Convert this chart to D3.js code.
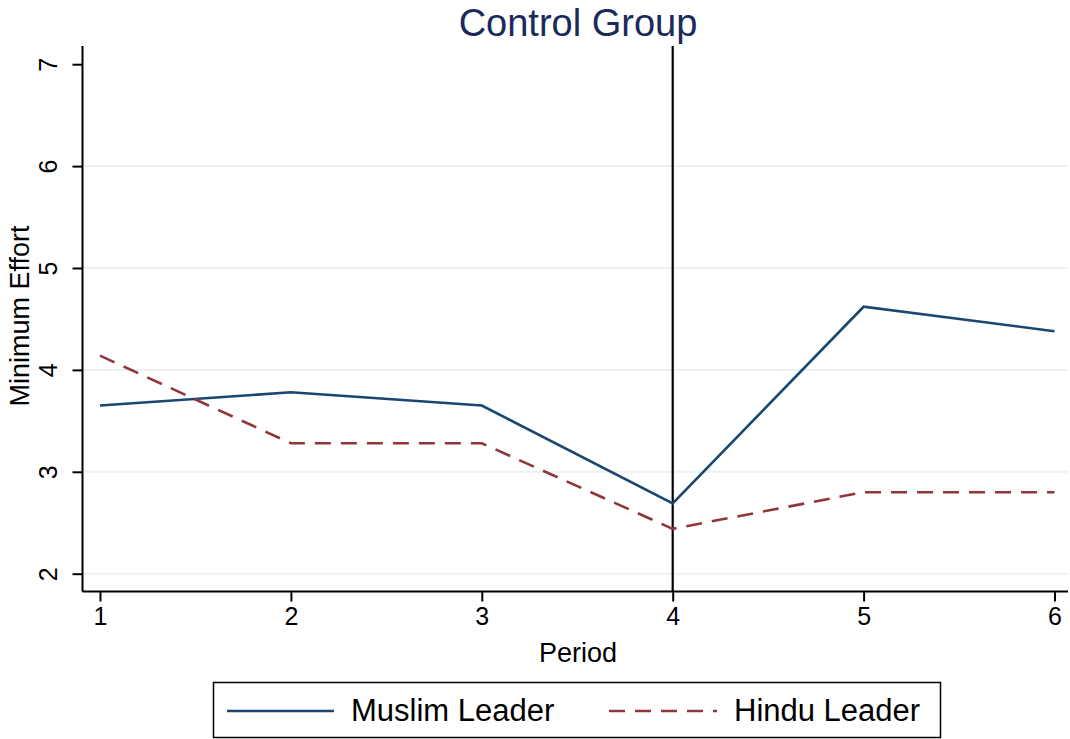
<!DOCTYPE html>
<html>
<head>
<meta charset="utf-8">
<script src="https://cdn.jsdelivr.net/npm/d3@7"></script>
<style>
  body { margin: 0; background: #fff; }
  text { font-family: "Liberation Sans", Arial, sans-serif; }
</style>
</head>
<body>
<div id="container"></div>
<script>
// data
const periods = [1, 2, 3, 4, 5, 6]
const muslimLeader = [3.65, 3.78, 3.65, 2.69, 4.62, 4.38]
const hinduLeader = [4.14, 3.28, 3.28, 2.44, 2.80, 2.80]
const yTicks = [2, 3, 4, 5, 6, 7]
const gridTicks = [2, 3, 4, 5, 6]
const seriesNames = ["Muslim Leader", "Hindu Leader"]

const W = 1070, H = 739
const svg = d3.select("#container").append("svg")
    .attr("width", W).attr("height", H)

const x = d3.scaleLinear().domain([1, 6]).range([100, 1054.5])
const y = d3.scaleLinear().domain([2, 7]).range([573.7, 64.2])
const plotLeft = 82.5, plotRight = 1068, plotBottom = 591.5, plotTop = 46

// grid
svg.append("g").selectAll("line").data(gridTicks).join("line")
    .attr("x1", plotLeft).attr("x2", plotRight)
    .attr("y1", d => y(d)).attr("y2", d => y(d))
    .attr("stroke", "#eaf2f3").attr("stroke-width", 2)

// axes
const yAxis = svg.append("g").attr("transform", `translate(${plotLeft},0)`)
    .call(d3.axisLeft(y).tickValues(yTicks).tickFormat(d3.format("d")).tickSize(10).tickPadding(8))
yAxis.select(".domain").attr("d", `M0,${plotTop}V${plotBottom}`).attr("stroke-width", 2)
yAxis.selectAll(".tick line").attr("stroke-width", 2)
yAxis.selectAll(".tick text")
    .style("font-size", "25px").attr("fill", "#000")
    .attr("text-anchor", "middle")
    .attr("transform", "translate(-34,0) rotate(-90)")
    .attr("x", 0).attr("dy", "0.35em")

const xAxis = svg.append("g").attr("transform", `translate(0,${plotBottom})`)
    .call(d3.axisBottom(x).tickValues(periods).tickFormat(d3.format("d")).tickSize(10).tickPadding(6))
xAxis.select(".domain").attr("d", `M${plotLeft},0H${plotRight}`).attr("stroke-width", 2)
xAxis.selectAll(".tick line").attr("stroke-width", 2)
xAxis.selectAll(".tick text").style("font-size", "25px").attr("fill", "#000")

// vertical line at period 4
svg.append("line")
    .attr("x1", x(4)).attr("x2", x(4))
    .attr("y1", plotTop).attr("y2", plotBottom)
    .attr("stroke", "#000").attr("stroke-width", 2.2)

// series
const line = d3.line().x((d, i) => x(periods[i])).y(d => y(d))
svg.append("path").datum(muslimLeader)
    .attr("d", line).attr("fill", "none")
    .attr("stroke", "#1a476f").attr("stroke-width", 2.6)
svg.append("path").datum(hinduLeader)
    .attr("d", line).attr("fill", "none")
    .attr("stroke", "#90353b").attr("stroke-width", 2.6)
    .attr("stroke-dasharray", "16,10")

// titles
svg.append("text").attr("x", 578).attr("y", 36)
    .attr("text-anchor", "middle").style("font-size", "38px").attr("fill", "#1a2a5a")
    .text("Control Group")
svg.append("text").attr("x", 578).attr("y", 662)
    .attr("text-anchor", "middle").style("font-size", "27px").attr("fill", "#000")
    .text("Period")
svg.append("text").attr("transform", "translate(29,316) rotate(-90)")
    .attr("text-anchor", "middle").style("font-size", "27px").attr("fill", "#000")
    .text("Minimum Effort")

// legend
const leg = svg.append("g")
leg.append("rect").attr("x", 213.5).attr("y", 682.5).attr("width", 727).attr("height", 55)
    .attr("fill", "#fff").attr("stroke", "#000").attr("stroke-width", 1.5)
const legX = [[227, 334, 351], [609, 717, 734]]
const legColors = ["#1a476f", "#90353b"]
seriesNames.forEach(function(name, i){
    leg.append("line")
        .attr("x1", legX[i][0]).attr("x2", legX[i][1])
        .attr("y1", 711).attr("y2", 711)
        .attr("stroke", legColors[i]).attr("stroke-width", 2.6)
        .attr("stroke-dasharray", i === 1 ? "16,10" : null)
    leg.append("text").attr("x", legX[i][2]).attr("y", 721)
        .style("font-size", "31px").attr("fill", "#000").text(name)
})
</script>
</body>
</html>
